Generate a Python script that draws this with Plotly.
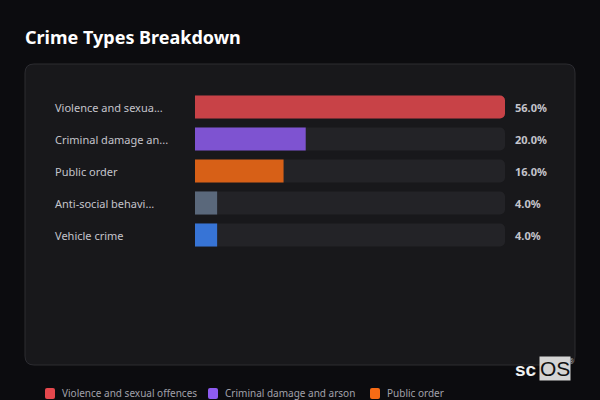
import plotly.graph_objects as go

categories = ["Violence and sexual offences", "Criminal damage and arson", "Public order",
              "Anti-social behaviour", "Vehicle crime"]
short_labels = ["Violence and sexua...", "Criminal damage an...", "Public order",
                "Anti-social behavi...", "Vehicle crime"]
percentages = [56.0, 20.0, 16.0, 4.0, 4.0]
colors = ["#e5484d", "#8e5cf0", "#f76b15", "#64748b", "#3b82f6"]
title_text = "Crime Types Breakdown"

# legend row layout (only the first row is inside the 400px frame)
legend_x = [45, 208, 370]
legend_y = 393

W, H = 600, 400
FONT = "Noto Sans"
max_val = max(percentages)

px = lambda v: v / W
py = lambda v: 1 - v / H


def rounded_rect(x0, y0, x1, y1, r):
    return (f"M {px(x0 + r)},{py(y0)} L {px(x1 - r)},{py(y0)} "
            f"Q {px(x1)},{py(y0)} {px(x1)},{py(y0 + r)} L {px(x1)},{py(y1 - r)} "
            f"Q {px(x1)},{py(y1)} {px(x1 - r)},{py(y1)} L {px(x0 + r)},{py(y1)} "
            f"Q {px(x0)},{py(y1)} {px(x0)},{py(y1 - r)} L {px(x0)},{py(y0 + r)} "
            f"Q {px(x0)},{py(y0)} {px(x0 + r)},{py(y0)} Z")


fig = go.Figure()

# background tracks
fig.add_trace(go.Bar(
    x=[max_val] * len(categories), y=categories, orientation="h",
    marker=dict(color="#232327", cornerradius=5, line=dict(width=0)),
    width=0.72, showlegend=False, hoverinfo="skip"))

for cat, val, col in zip(categories, percentages, colors):
    fig.add_trace(go.Bar(
        x=[val], y=[cat], orientation="h", name=cat,
        marker=dict(color=col, cornerradius=5, line=dict(width=0)),
        opacity=0.85, width=0.72, showlegend=False))

annotations = []
for cat, lab, val in zip(categories, short_labels, percentages):
    annotations.append(dict(
        x=53 / W, xref="paper", y=cat, yref="y", text=lab, showarrow=False,
        xanchor="left", yanchor="middle",
        font=dict(family=FONT, size=11, color="#c4c4cc")))
    annotations.append(dict(
        x=513 / W, xref="paper", y=cat, yref="y", text=f"<b>{val:.1f}%</b>",
        showarrow=False, xanchor="left", yanchor="middle",
        font=dict(family=FONT, size=11, color="#c4c4cc")))

annotations.append(dict(
    x=23 / W, xref="paper", y=py(37), yref="paper", text="<b>" + title_text + "</b>",
    showarrow=False, xanchor="left", yanchor="middle",
    font=dict(family=FONT, size=18, color="#ffffff")))

# watermark
annotations.append(dict(
    x=539 / W, xref="paper", y=py(369), yref="paper", text="<b>sc</b>",
    showarrow=False, xanchor="right", yanchor="middle",
    font=dict(family="Liberation Sans", size=19, color="#f0f0f0")))
annotations.append(dict(
    x=539 / W, xref="paper", y=py(368), yref="paper", text="OS",
    showarrow=False, xanchor="left", yanchor="middle", bgcolor="#d4d4d4",
    borderpad=0,
    font=dict(family="Liberation Sans", size=21, color="#111111")))
annotations.append(dict(
    x=572 / W, xref="paper", y=py(361), yref="paper", text="®",
    showarrow=False, xanchor="center", yanchor="middle",
    font=dict(family="Liberation Sans", size=7, color="#bbbbbb")))

shapes = [dict(type="path", path=rounded_rect(25, 64, 575, 365, 9), xref="paper", yref="paper",
               fillcolor="#18181b", line=dict(color="#2c2c31", width=1), layer="below")]

# legend row
for lx, cat, col in zip(legend_x, categories, colors):
    shapes.append(dict(type="path", path=rounded_rect(lx, legend_y - 5, lx + 10, legend_y + 6, 2),
                       xref="paper", yref="paper", fillcolor=col, line=dict(width=0)))
    annotations.append(dict(
        x=(lx + 15) / W, xref="paper", y=py(legend_y), yref="paper", text=cat,
        showarrow=False, xanchor="left", yanchor="middle",
        font=dict(family=FONT, size=10, color="#a1a1aa")))

fig.update_layout(
    width=W, height=H,
    margin=dict(l=0, r=0, t=0, b=0, autoexpand=False),
    paper_bgcolor="#0c0c0f", plot_bgcolor="rgba(0,0,0,0)",
    barmode="overlay",
    shapes=shapes,
    annotations=annotations,
    xaxis=dict(domain=[195 / W, 505 / W], range=[0, max_val], visible=False, fixedrange=True),
    yaxis=dict(domain=[py(251), py(91)], range=[len(categories) - 0.5, -0.5],
               type="category", categoryorder="array", categoryarray=categories,
               visible=False, fixedrange=True),
    showlegend=False,
)

fig.write_html("out.html", config={"displayModeBar": False},
               post_script="document.body.style.margin='0';"
                           "document.body.style.overflow='hidden';"
                           "document.body.style.background='#0c0c0f';")
